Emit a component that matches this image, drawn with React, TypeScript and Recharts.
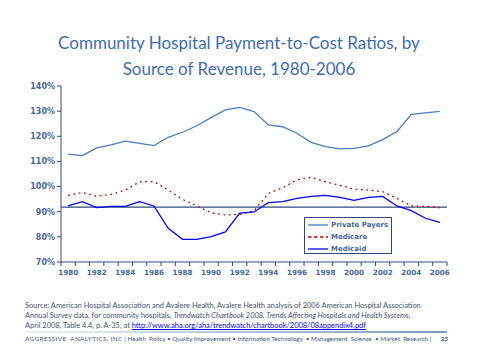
import { LineChart, Line, XAxis, YAxis, ReferenceLine } from "recharts";

const years = [
  "1980", "1981", "1982", "1983", "1984", "1985", "1986", "1987", "1988",
  "1989", "1990", "1991", "1992", "1993", "1994", "1995", "1996", "1997",
  "1998", "1999", "2000", "2001", "2002", "2003", "2004", "2005", "2006",
];

const privatePayers = [
  112.9, 112.3, 115.4, 116.6, 118.1, 117.2, 116.3, 119.6, 121.6, 124.2, 127.4,
  130.5, 131.5, 129.8, 124.5, 123.8, 121.2, 117.6, 115.9, 115.0, 115.2, 116.2,
  118.7, 121.9, 128.7, 129.3, 129.9,
];

const medicare = [
  96.5, 97.7, 96.1, 96.9, 98.6, 101.9, 102.0, 98.6, 94.9, 92.3, 89.6, 88.7,
  88.9, 90.3, 97.3, 99.5, 102.6, 103.7, 101.9, 100.5, 99.0, 98.6, 98.0, 95.3,
  92.3, 92.1, 91.6,
];

const medicaid = [
  92.3, 94.0, 91.6, 92.1, 92.1, 94.0, 92.3, 83.4, 79.0, 79.0, 80.1, 82.0, 89.4,
  89.9, 93.6, 94.0, 95.3, 96.1, 96.5, 95.7, 94.5, 95.7, 96.1, 92.3, 90.4, 87.4,
  85.8,
];

const yTicks = [70, 80, 90, 100, 110, 120, 130, 140];
const breakEven = 91.8;

const SERIES = [
  { key: "privatePayers", label: "Private Payers", color: "#4A7EBB", dash: undefined, legendDash: undefined },
  { key: "medicare", label: "Medicare", color: "#C00000", dash: "1.8 3.6", legendDash: "3.5 2.5" },
  { key: "medicaid", label: "Medicaid", color: "#0000FF", dash: undefined, legendDash: undefined },
];

const data = years.map((year, i) => ({
  year,
  privatePayers: privatePayers[i],
  medicare: medicare[i],
  medicaid: medicaid[i],
}));

const AXIS = "#2F4B7C";
const TICK_TEXT = "#4A6797";

// tick marks sit between the years (Excel style), labels every other year
function YearTick(props: any) {
  const { x, y, payload, index, width, visibleTicksCount } = props;
  const half =
    payload && typeof payload.offset === "number" && payload.offset > 0
      ? payload.offset
      : width / visibleTicksCount / 2;
  const last = index === visibleTicksCount - 1;
  return (
    <g>
      <line x1={x - half} x2={x - half} y1={y} y2={y + 4} stroke={AXIS} />
      {last && <line x1={x + half} x2={x + half} y1={y} y2={y + 4} stroke={AXIS} />}
      {index % 2 === 0 && (
        <text
          x={x}
          y={y + 8}
          dy="0.71em"
          textAnchor="middle"
          fontSize={7.2}
          fontWeight={700}
          fill={TICK_TEXT}
          fontFamily="'DejaVu Sans', sans-serif"
        >
          {payload.value}
        </text>
      )}
    </g>
  );
}

export default function App() {
  return (
    <div
      style={{
        position: "absolute",
        left: 0,
        top: 0,
        width: 480,
        height: 360,
        background: "#fff",
        overflow: "hidden",
      }}
    >
      <div
        style={{
          position: "absolute",
          left: 0,
          top: 30,
          width: 478,
          textAlign: "center",
          fontFamily: "Lato, 'Open Sans', sans-serif",
          fontSize: 17,
          lineHeight: "26px",
          color: "#3F6DAE",
        }}
      >
        Community Hospital Payment-to-Cost Ratios, by
        <br />
        Source of Revenue, 1980-2006
      </div>

      <div style={{ position: "absolute", left: 0, top: 0 }}>
        <LineChart
          width={480}
          height={290}
          data={data}
          margin={{ top: 86, right: 33, bottom: 27, left: 0 }}
        >
          <YAxis
            domain={[70, 140]}
            ticks={yTicks}
            tickFormatter={(v) => `${v}%`}
            width={61}
            tickSize={4}
            tickMargin={2}
            stroke={AXIS}
            tick={{ fontSize: 8, fontWeight: 700, fill: TICK_TEXT, fontFamily: "'DejaVu Sans', sans-serif" }}
          />
          <XAxis
            dataKey="year"
            scale="band"
            interval={0}
            height={1}
            tickLine={false}
            tickSize={0}
            tickMargin={0}
            stroke={AXIS}
            tick={<YearTick />}
          />
          <ReferenceLine y={breakEven} stroke={AXIS} strokeWidth={1.3} />
          {SERIES.map((s) => (
            <Line
              key={s.key}
              type="linear"
              dataKey={s.key}
              name={s.label}
              stroke={s.color}
              strokeWidth={1.3}
              strokeDasharray={s.dash}
              dot={false}
              isAnimationActive={false}
            />
          ))}
        </LineChart>
      </div>

      <div
        style={{
          position: "absolute",
          left: 304,
          top: 217,
          width: 86,
          height: 35,
          border: `1px solid ${AXIS}`,
          background: "#fff",
          fontFamily: "'DejaVu Sans', sans-serif",
          fontSize: 7,
          fontWeight: 700,
          color: "#4A6797",
        }}
      >
        {SERIES.map((s, i) => (
          <div
            key={s.key}
            style={{
              position: "absolute",
              left: 3,
              top: 2 + i * 11.8,
              height: 10,
              display: "flex",
              alignItems: "center",
              whiteSpace: "nowrap",
            }}
          >
            <svg width={20} height={4} style={{ marginRight: 3 }}>
              <line x1={0} y1={2} x2={20} y2={2} stroke={s.color} strokeWidth={1.3} strokeDasharray={s.legendDash} />
            </svg>
            {s.label}
          </div>
        ))}
      </div>

      <div
        style={{
          position: "absolute",
          left: 25,
          top: 301,
          width: 450,
          fontFamily: "Lato, sans-serif",
          fontSize: 7.45,
          lineHeight: "10px",
          color: "#44546A",
          whiteSpace: "nowrap",
        }}
      >
        Source: American Hospital Association and Avalere Health, Avalere Health analysis of 2006 American Hospital Association
        <br />
        Annual Survey data, for community hospitals, <i>Trendwatch Chartbook 2008, Trends Affecting Hospitals and Health Systems,</i>
        <br />
        April 2008, Table 4.4, p. A-35, at{" "}
        <span style={{ color: "#0000EE", textDecoration: "underline" }}>
          http://www.aha.org/aha/trendwatch/chartbook/2008/08appendix4.pdf
        </span>
      </div>

      <div
        style={{
          position: "absolute",
          left: 24,
          top: 331,
          width: 423,
          height: 2,
          background: "linear-gradient(to right, #EEF2F7, #7D98BE)",
        }}
      />

      <div
        style={{
          position: "absolute",
          left: 25,
          top: 334.5,
          width: 423,
          display: "flex",
          justifyContent: "space-between",
          fontFamily: "Lato, sans-serif",
          fontSize: 6.3,
          lineHeight: "7px",
          color: "#3E5375",
          whiteSpace: "nowrap",
        }}
      >
        <span>
          <span style={{ letterSpacing: 0.4 }}>AGGRESSIVE&nbsp; ANALYTICS, INC</span> | Health&nbsp; Policy • Quality Improvement • Information Technology&nbsp; • Management&nbsp; Science&nbsp; • Market&nbsp; Research |
        </span>
        <span style={{ fontWeight: 700 }}>23</span>
      </div>
    </div>
  );
}
